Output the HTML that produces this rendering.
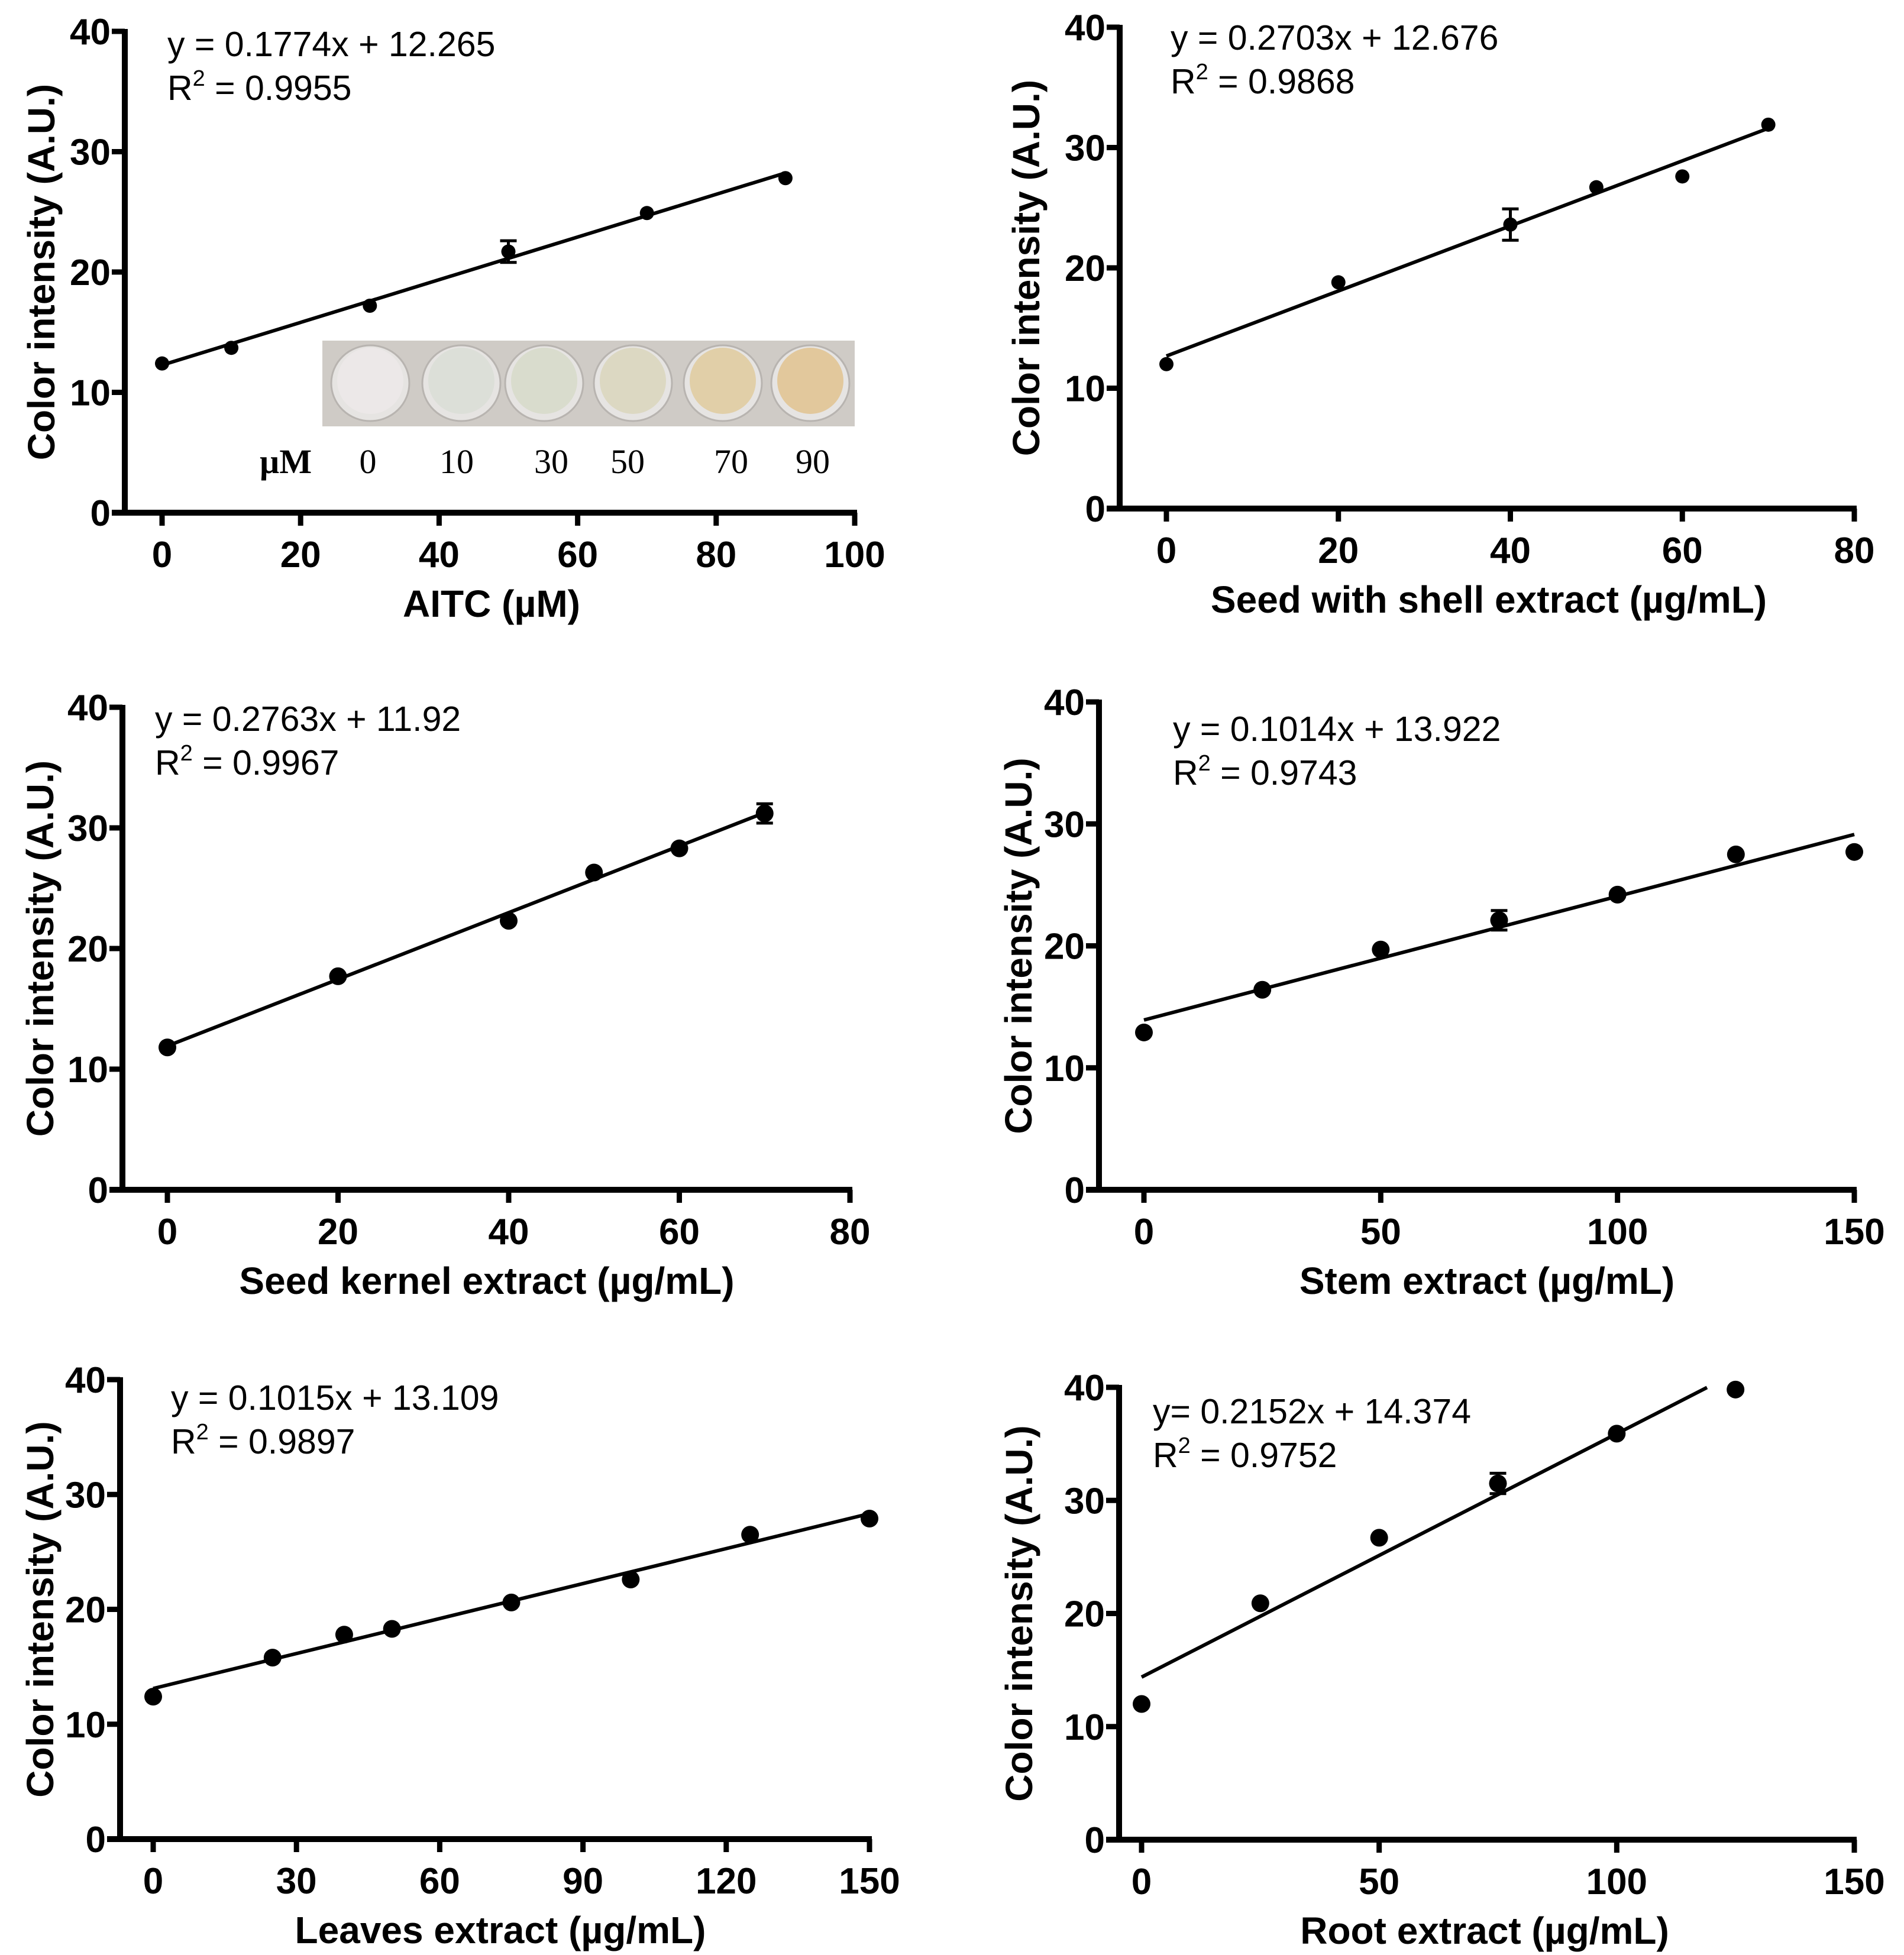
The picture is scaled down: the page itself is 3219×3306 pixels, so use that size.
<!DOCTYPE html>
<html><head><meta charset="utf-8"><style>
html,body{margin:0;padding:0;background:#fff;}
svg{display:block;}
.tk{font-family:"Liberation Sans",sans-serif;font-weight:bold;font-size:62px;}
.tt{font-family:"Liberation Sans",sans-serif;font-weight:bold;font-size:64px;}
.eq{font-family:"Liberation Sans",sans-serif;font-size:59px;}
.sr{font-family:"Liberation Serif",serif;font-size:58px;}
</style></head><body>
<svg id="fig" width="3219" height="3306" viewBox="0 0 3219 3306" xmlns="http://www.w3.org/2000/svg"></svg>
<script>
// Panel data
const aitcX=[0,10,30,50,70,90];
const aitcY=[12.4,13.7,17.2,21.7,24.9,27.8];
const aitcErr=[0,0,0,0.9,0,0];
const shellX=[0,20,40,50,60,70];
const shellY=[12.0,18.8,23.6,26.7,27.6,31.9];
const shellErr=[0,0,1.3,0,0,0];
const kernelX=[0,20,40,50,60,70];
const kernelY=[11.8,17.7,22.3,26.3,28.3,31.2];
const kernelErr=[0,0,0,0,0,0.8];
const stemX=[0,25,50,75,100,125,150];
const stemY=[12.9,16.4,19.7,22.1,24.2,27.5,27.7];
const stemErr=[0,0,0,0.8,0,0,0];
const leavesX=[0,25,40,50,75,100,125,150];
const leavesY=[12.4,15.8,17.8,18.3,20.6,22.6,26.5,27.9];
const leavesErr=[0,0,0,0,0,0,0,0];
const rootX=[0,25,50,75,100,125];
const rootY=[12.0,20.9,26.7,31.5,35.9,39.8];
const rootErr=[0,0,0,0.9,0,0];
const fitSlope=[0.1774,0.2703,0.2763,0.1014,0.1015,0.2152];
const fitIntercept=[12.265,12.676,11.92,13.922,13.109,14.374];
const fitXEnd=[90,70,70,150,150,119];
const yTicks=[0,10,20,30,40];
const xTicksA=[0,20,40,60,80,100];
const xTicks80=[0,20,40,60,80];
const xTicks150=[0,50,100,150];
const xTicks30=[0,30,60,90,120,150];
const eqLine1=["y = 0.1774x + 12.265","y = 0.2703x + 12.676","y = 0.2763x + 11.92","y = 0.1014x + 13.922","y = 0.1015x + 13.109","y= 0.2152x + 14.374"];
const eqR2=["0.9955","0.9868","0.9967","0.9743","0.9897","0.9752"];
const xTitles=["AITC (\u00b5M)","Seed with shell extract (\u00b5g/mL)","Seed kernel extract (\u00b5g/mL)","Stem extract (\u00b5g/mL)","Leaves extract (\u00b5g/mL)","Root extract (\u00b5g/mL)"];

const NS="http://www.w3.org/2000/svg";
const svg=document.getElementById('fig');
function mk(tag,attrs,parent,txt){const e=document.createElementNS(NS,tag);for(const k in attrs)e.setAttribute(k,attrs[k]);if(txt!==undefined)e.textContent=txt;(parent||svg).appendChild(e);return e;}

const layout=[
 {ax:211,y40:53,y0:867,x0:274,x1:1445,xmax:100,ticks:xTicksA,ex:283,eb:95,tcx:831,ycx:70,r:12},
 {ax:1893,y40:46,y0:860,x0:1972,x1:3135,xmax:80,ticks:xTicks80,ex:1979,eb:84,tcx:2517,ycx:1735,r:12},
 {ax:207,y40:1196,y0:2012,x0:283,x1:1437,xmax:80,ticks:xTicks80,ex:262,eb:1236,tcx:823,ycx:68,r:15},
 {ax:1858,y40:1187,y0:2012,x0:1934,x1:3135,xmax:150,ticks:xTicks150,ex:1983,eb:1253,tcx:2514,ycx:1722,r:15},
 {ax:203,y40:2333,y0:3110,x0:259,x1:1470,xmax:150,ticks:xTicks30,ex:289,eb:2384,tcx:846,ycx:68,r:15},
 {ax:1892,y40:2346,y0:3111,x0:1930,x1:3135,xmax:150,ticks:xTicks150,ex:1949,eb:2407,tcx:2510,ycx:1723,r:15}
];
const dataX=[aitcX,shellX,kernelX,stemX,leavesX,rootX];
const dataY=[aitcY,shellY,kernelY,stemY,leavesY,rootY];
const dataE=[aitcErr,shellErr,kernelErr,stemErr,leavesErr,rootErr];
const names=["aitc","seed-shell","seed-kernel","stem","leaves","root"];

layout.forEach((L,i)=>{
  const g=mk('g',{});
  
  
  const sx=v=>L.x0+(L.x1-L.x0)*v/L.xmax;
  const sy=v=>L.y0-(L.y0-L.y40)*v/40;
  const ya=mk('line',{x1:L.ax,y1:L.y40-4,x2:L.ax,y2:L.y0+4,stroke:'#000','stroke-width':10},g);
  
  
  const xa=mk('line',{x1:L.ax-22,y1:L.y0,x2:L.x1+4,y2:L.y0,stroke:'#000','stroke-width':10},g);
  
  
  yTicks.forEach(t=>{
    mk('line',{x1:L.ax-22,y1:sy(t),x2:L.ax,y2:sy(t),stroke:'#000','stroke-width':9},g);
    const tl=mk('text',{x:L.ax-24,y:sy(t)+22,'text-anchor':'end',class:'tk'},g,String(t));
    
    
  });
  L.ticks.forEach(t=>{
    mk('line',{x1:sx(t),y1:L.y0,x2:sx(t),y2:L.y0+22,stroke:'#000','stroke-width':9},g);
    const tl=mk('text',{x:sx(t),y:L.y0+92,'text-anchor':'middle',class:'tk'},g,String(t));
    
    
  });
  const xt=mk('text',{x:L.tcx,y:L.y0+176,'text-anchor':'middle',class:'tt'},g,xTitles[i]);
  
  
  const ymid=(L.y0+L.y40)/2;
  const yt=mk('text',{x:L.ycx+22,y:ymid,'text-anchor':'middle',class:'tt',transform:`rotate(-90 ${L.ycx+22} ${ymid})`},g,'Color intensity (A.U.)');
  
  
  const e1=mk('text',{x:L.ex,y:L.eb,class:'eq'},g,eqLine1[i]);
  
  
  const e2=mk('text',{x:L.ex,y:L.eb+74,class:'eq'},g);
  
  
  e2.appendChild(document.createTextNode('R'));
  mk('tspan',{dy:-24,'font-size':38},e2,'2');
  mk('tspan',{dy:24},e2,' = '+eqR2[i]);
  const fl=mk('line',{x1:sx(0),y1:sy(fitIntercept[i]),x2:sx(fitXEnd[i]),y2:sy(fitIntercept[i]+fitSlope[i]*fitXEnd[i]),stroke:'#000','stroke-width':6},g);
  
  
  dataX[i].forEach((x,j)=>{
    const y=dataY[i][j],er=dataE[i][j];
    if(er>0){
      const eb=mk('path',{d:`M${sx(x)} ${sy(y+er)}V${sy(y-er)}M${sx(x)-14} ${sy(y+er)}H${sx(x)+14}M${sx(x)-14} ${sy(y-er)}H${sx(x)+14}`,stroke:'#000','stroke-width':5,fill:'none'},g);
      
      
    }
    const c=mk('circle',{cx:sx(x),cy:sy(y),r:L.r,fill:'#000'},g);
    
    
  });
});

const ins=mk('g',{});


mk('rect',{x:545,y:576,width:900,height:145,fill:'#cfcbc6'},ins);
const wellCx=[626,780,920,1070,1222,1370];
const wellColors=['#ece8e8','#dcdfd8','#d9dccd','#dcd8c2','#e1cfa8','#e2c89c'];
const wellLabels=['0','10','30','50','70','90'];
const wellLabelX=[622,772,932,1061,1236,1374];
wellCx.forEach((cx,i)=>{
  mk('ellipse',{cx:cx,cy:648,rx:66,ry:64,fill:'#e6e4e2',stroke:'#b8b4b0','stroke-width':3},ins);
  const w=mk('ellipse',{cx:cx,cy:644,rx:56,ry:56,fill:wellColors[i]},ins);
  
  
  const t=mk('text',{x:wellLabelX[i],y:800,'text-anchor':'middle',class:'sr'},ins,wellLabels[i]);
  
  
});
const um=mk('text',{x:483,y:800,'text-anchor':'middle',class:'sr','font-weight':'bold'},ins,'\u00b5M');


</script>
</body></html>
